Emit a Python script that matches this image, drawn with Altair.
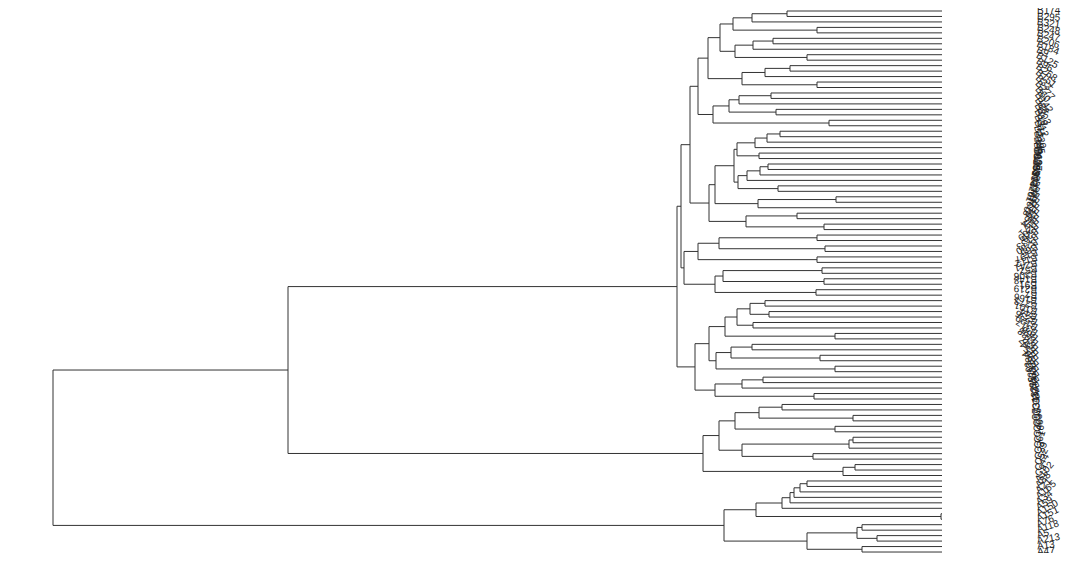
import altair as alt
import pandas as pd

# ---- leaf labels (top to bottom) ----
labels_c1 = ["B174", "B295", "B321", "B248", "B247", "B206", "B184", "B9", "B125", "B96",
             "B268", "B151", "B33", "B277", "B60", "B142", "B88", "B203", "B19", "B312",
             "B71", "B230", "B105", "B46", "B262", "B137", "B289", "B58", "B193", "B14",
             "B226", "B301", "B77", "B160", "B118", "B39", "B254", "B83", "B171", "B209",
             "B26", "B133", "B280", "B65", "B197", "B112", "B241", "B52", "B306", "B148",
             "B91", "B219", "B7", "B166", "B273", "B101", "B44", "B236", "B129", "B317",
             "B68", "B188", "B22", "B257", "B154", "B99", "B284", "B37", "B213", "B120",
             "B75", "B292"]
labels_c2 = ["C12", "C48", "C31", "C7", "C55", "C23", "C40", "C16", "C61", "C3",
             "C29", "C52", "C44", "C9"]
labels_c3 = ["A102", "A88", "A21", "A165", "A34", "A59", "A150", "A151", "A76", "A118",
             "A5", "A213", "A13", "A47"]
leaf_labels = labels_c1 + labels_c2 + labels_c3

L = "leaf"

# ---- merge heights (nested: [height, left, right]) ----
group_a = [2.34,
           [2.22,
            [2.09, [1.90, [1.55, L, L], L], [1.25, L, L]],
            [2.07, [1.89, [1.69, L, L], L], [1.35, L, L]]],
           [2.00, [1.77, [1.52, L, L], L], [1.25, L, L]]]
group_b = [2.29, [2.13, [2.03, [1.71, L, L], L], [1.66, L, L]], [1.13, L, L]]
group_q = [2.08,
           [2.05, [1.87, [1.75, [1.62, L, L], L], L], [1.83, L, L]],
           [2.04, [1.95, [1.82, [1.74, L, L], L], L], [1.64, L, L]]]
group_r = [2.33, [2.27, group_q, [1.84, [1.06, L, L], L]],
           [1.96, [1.45, L, L], [1.18, L, L]]]
group_s = [2.58,
           [2.44, [2.23, [1.25, L, L], [1.17, L, L]], [1.25, L, L]],
           [2.27, [2.19, [1.20, L, L], [1.18, L, L]], [1.26, L, L]]]
group_t = [2.47,
           [2.33,
            [2.17, [2.05, [1.92, [1.77, L, L], [1.73, L, L]], [1.89, L, L]], [1.07, L, L]],
            [2.26, [2.11, [1.90, L, L], [1.22, L, L]], [1.07, L, L]]],
           [2.27, [2.00, [1.79, L, L], L], [1.28, L, L]]]
cluster_c1 = [2.65, [2.61, [2.52, [2.44, group_a, group_b], group_r], group_s], group_t]
cluster_c2 = [2.39,
              [2.23,
               [2.07, [1.83, [1.60, L, L], [0.89, L, L]], [1.07, L, L]],
               [2.00, [0.93, [0.89, L, L], L], [1.29, L, L]]],
              [0.99, [0.87, L, L], L]]
cluster_c3 = [2.18,
              [1.86, [1.60, [1.52, [1.48, [1.42, [1.35, L, L], L], L], L], L], [0.01, L, L]],
              [1.35, [0.85, [0.80, L, L], [0.65, L, L]], [0.80, L, L]]]
root = [8.89, [6.54, cluster_c1, cluster_c2], cluster_c3]

# ---- dendrogram layout from the merge tree ----
segs = []
counter = [0]


def layout(node):
    if node == L:
        i = counter[0]
        counter[0] += 1
        return 0.0, float(i)
    h, a, b = node
    ha, ya = layout(a)
    hb, yb = layout(b)
    segs.append((ha, ya, h, ya))
    segs.append((h, ya, h, yb))
    segs.append((h, yb, hb, yb))
    return h, (ya + yb) / 2


layout(root)
n = counter[0]

LABEL_GAP = -0.95  # label anchor, in height units right of the leaves

seg_df = pd.DataFrame(segs, columns=["x1", "y1", "x2", "y2"])
lab_df = pd.DataFrame({
    "label": leaf_labels[:n],
    "idx": list(range(n)),
    "h": [LABEL_GAP] * n,
    "angle": [i * 360.0 / n for i in range(n)],
})

W, H = 1064, 545
xscale = alt.Scale(domain=[9.34, -1.30], nice=False, zero=False)
yscale = alt.Scale(domain=[-0.549, 99.18], nice=False, zero=False, reverse=True)

lines = alt.Chart(seg_df).mark_rule(color="#333333", strokeWidth=1).encode(
    x=alt.X("x1:Q", scale=xscale, axis=None),
    x2="x2:Q",
    y=alt.Y("y1:Q", scale=yscale, axis=None),
    y2="y2:Q",
)

texts = alt.Chart(lab_df).mark_text(
    align="left", baseline="middle", fontSize=10, font="Liberation Sans", color="#222222"
).encode(
    x=alt.X("h:Q", scale=xscale, axis=None),
    y=alt.Y("idx:Q", scale=yscale, axis=None),
    text="label:N",
    angle=alt.Angle("angle:Q", scale=None),
)

chart = alt.layer(lines, texts).properties(
    width=W, height=H, autosize=alt.AutoSizeParams(type="none"), padding=0
).configure_view(stroke=None)

chart.save("out.html", embed_options={"renderer": "svg", "actions": False})
